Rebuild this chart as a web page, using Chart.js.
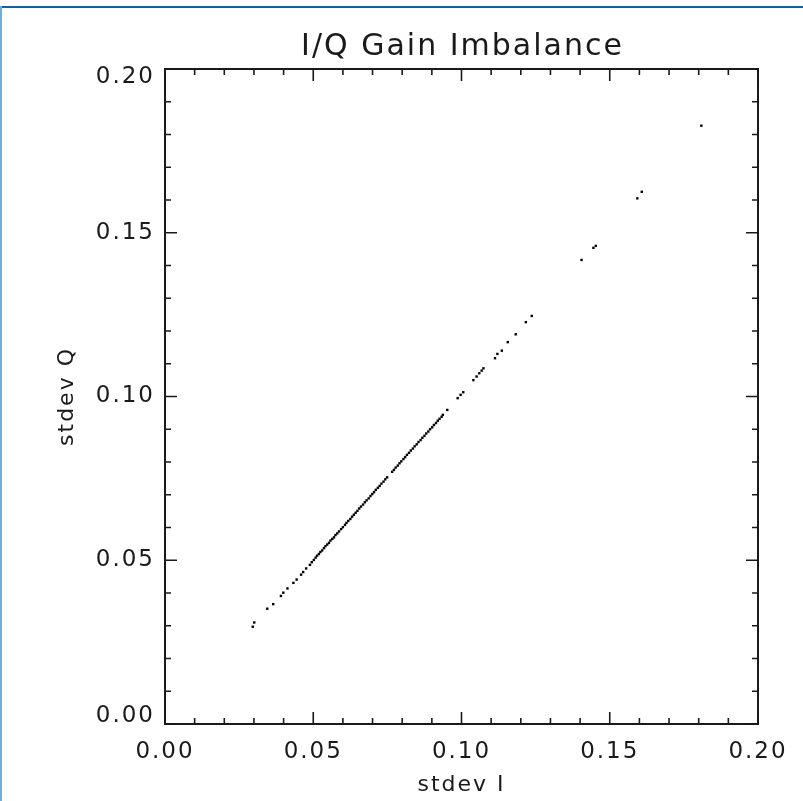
<!DOCTYPE html>
<html>
<head>
<meta charset="utf-8">
<title>I/Q Gain Imbalance</title>
<script src="https://cdn.jsdelivr.net/npm/chart.js"></script>
<style>
  html, body { margin: 0; padding: 0; background: #fff; }
  #wrap { position: relative; width: 803px; height: 801px; }
  #wrap canvas { position: absolute; left: 0; top: 0; }
  .topline { position: absolute; left: 0; top: 6px; width: 803px; height: 2px; background: #0b64a0; }
  .leftline { position: absolute; left: 0; top: 6px; width: 2px; height: 795px; background: #6aaedb; }
</style>
</head>
<body>
<div id="wrap">
  <canvas id="chart" width="803" height="801"></canvas>
  <div class="topline"></div>
  <div class="leftline"></div>
</div>
<script>
// ===== data =====
const chartTitle = 'I/Q Gain Imbalance';
const stdevI = [
  0.0296, 0.0301, 0.0345, 0.0365, 0.0391, 0.0399, 0.0413, 0.0433, 0.0444, 0.0459,
  0.0466, 0.0476, 0.0489, 0.0495,
  0.0502, 0.0508, 0.0513, 0.0519, 0.0524, 0.0530, 0.0536, 0.0541, 0.0547, 0.0553,
  0.0558, 0.0564, 0.0570, 0.0575, 0.0581, 0.0587, 0.0594, 0.0600, 0.0607, 0.0612,
  0.0618, 0.0625, 0.0631, 0.0637, 0.0643, 0.0649, 0.0655, 0.0661, 0.0668, 0.0674,
  0.0680, 0.0687, 0.0693, 0.0699, 0.0705, 0.0711, 0.0718, 0.0724, 0.0730, 0.0737,
  0.0743, 0.0749, 0.0766, 0.0772, 0.0778, 0.0785, 0.0791, 0.0797, 0.0804, 0.0810,
  0.0816, 0.0823, 0.0829, 0.0836, 0.0842, 0.0849, 0.0855, 0.0862, 0.0868, 0.0875,
  0.0881, 0.0888, 0.0894, 0.0901, 0.0907, 0.0914, 0.0920, 0.0926,
  0.0933, 0.0937, 0.0952, 0.0987, 0.0997, 0.1006, 0.1040, 0.1051, 0.1060, 0.1068,
  0.1074, 0.1113, 0.1121, 0.1136, 0.1156, 0.1183, 0.1217, 0.1237,
  0.1405, 0.1445, 0.1453, 0.1593, 0.1608, 0.1809
];
const stdevQ = [
  0.0297, 0.0310, 0.0352, 0.0366, 0.0391, 0.0401, 0.0414, 0.0431, 0.0441, 0.0456,
  0.0464, 0.0475, 0.0486, 0.0494,
  0.0501, 0.0508, 0.0514, 0.0519, 0.0525, 0.0530, 0.0537, 0.0543, 0.0548, 0.0553,
  0.0560, 0.0565, 0.0570, 0.0577, 0.0582, 0.0588, 0.0595, 0.0601, 0.0608, 0.0614,
  0.0620, 0.0626, 0.0633, 0.0639, 0.0645, 0.0651, 0.0658, 0.0664, 0.0670, 0.0677,
  0.0683, 0.0689, 0.0696, 0.0702, 0.0708, 0.0715, 0.0721, 0.0727, 0.0734, 0.0740,
  0.0747, 0.0753, 0.0770, 0.0776, 0.0783, 0.0789, 0.0796, 0.0802, 0.0809, 0.0815,
  0.0822, 0.0828, 0.0835, 0.0841, 0.0848, 0.0854, 0.0861, 0.0867, 0.0874, 0.0880,
  0.0887, 0.0893, 0.0900, 0.0906, 0.0913, 0.0919, 0.0926, 0.0932,
  0.0938, 0.0944, 0.0959, 0.0995, 0.1005, 0.1013, 0.1050, 0.1061, 0.1071, 0.1079,
  0.1086, 0.1117, 0.1130, 0.1140, 0.1166, 0.1190, 0.1227, 0.1246,
  0.1417, 0.1454, 0.1460, 0.1605, 0.1625, 0.1827
];
const axisMin = 0.0;
const axisMax = 0.2;
const majorStep = 0.05;
const minorStep = 0.01;

const points = stdevI.map((v, i) => ({ x: v, y: stdevQ[i] }));
const FONT = '"DejaVu Sans", sans-serif';
const INK = '#1a1a1a';

// IDL style: box round the plot, ticks pointing inward on all four sides,
// title centred over the plot box rather than the whole canvas
const frameTicks = {
  id: 'frameTicks',
  beforeDraw(chart) {
    chart.ctx.letterSpacing = '2px';
  },
  afterDraw(chart) {
    const { ctx, chartArea: { left, right, top, bottom }, scales: { x, y } } = chart;
    ctx.save();
    ctx.strokeStyle = INK;
    ctx.lineWidth = 2;
    ctx.strokeRect(left, top, right - left, bottom - top);
    ctx.lineWidth = 1.6;
    const n = Math.round((axisMax - axisMin) / minorStep);
    for (let i = 0; i <= n; i++) {
      const v = axisMin + i * minorStep;
      const len = i % 5 === 0 ? 12 : 6;
      const px = x.getPixelForValue(v);
      const py = y.getPixelForValue(v);
      ctx.beginPath();
      ctx.moveTo(px, bottom); ctx.lineTo(px, bottom - len);
      ctx.moveTo(px, top); ctx.lineTo(px, top + len);
      ctx.moveTo(left, py); ctx.lineTo(left + len, py);
      ctx.moveTo(right, py); ctx.lineTo(right - len, py);
      ctx.stroke();
    }
    ctx.fillStyle = INK;
    ctx.font = '30px ' + FONT;
    ctx.textAlign = 'center';
    ctx.textBaseline = 'alphabetic';
    ctx.letterSpacing = '2px';
    ctx.fillText(chartTitle, (left + right) / 2 + 1, 55);
    ctx.restore();
  }
};

new Chart(document.getElementById('chart'), {
  type: 'scatter',
  data: {
    datasets: [{
      label: 'stdev Q vs stdev I',
      data: points,
      pointStyle: 'rect',
      pointRadius: 1.7,
      pointBorderWidth: 0,
      backgroundColor: '#000'
    }]
  },
  options: {
    responsive: false,
    animation: false,
    events: [],
    layout: { padding: { left: 0, right: 45, top: 69, bottom: 0 } },
    plugins: {
      legend: { display: false },
      tooltip: { enabled: false },
      title: { display: false }
    },
    scales: {
      x: {
        type: 'linear', min: axisMin, max: axisMax,
        grid: { display: false, drawTicks: false },
        border: { display: false },
        ticks: {
          stepSize: majorStep, maxRotation: 0, padding: 14, color: INK,
          font: { family: FONT, size: 23 },
          callback: v => v.toFixed(2)
        },
        title: {
          display: true, text: 'stdev I', color: INK,
          font: { family: FONT, size: 22 }, padding: { top: 0, bottom: 3 }
        },
        afterFit: s => { s.height = 77; }
      },
      y: {
        type: 'linear', min: axisMin, max: axisMax,
        grid: { display: false, drawTicks: false },
        border: { display: false },
        ticks: {
          stepSize: majorStep, padding: 10, color: INK,
          font: { family: FONT, size: 23, lineHeight: 0.7 },
          callback: v => {
            const t = v.toFixed(2);
            if (Math.abs(v - axisMax) < 1e-9) return ['', t];
            if (Math.abs(v - axisMin) < 1e-9) return [t, ''];
            return t;
          }
        },
        title: {
          display: true, text: 'stdev Q', color: INK,
          font: { family: FONT, size: 22 }, padding: { top: 54, bottom: 0 }
        },
        afterFit: s => { s.width = 165; }
      }
    }
  },
  plugins: [frameTicks]
});
</script>
</body>
</html>
